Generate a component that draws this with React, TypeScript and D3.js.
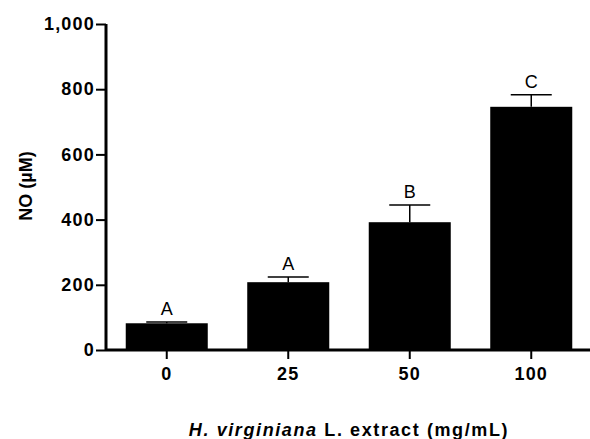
import * as d3 from "d3";
import React, { useEffect, useRef } from "react";

const categories = ["0", "25", "50", "100"];
const means = [82, 208, 392, 746];
const errors = [4, 16, 53, 37];
const letters = ["A", "A", "B", "C"];
const yTicks = [0, 200, 400, 600, 800, 1000];

const App = () => {
  const ref = useRef<SVGSVGElement | null>(null);

  useEffect(() => {
    drawChart();
  }, []);

  const drawChart = () => {
    const svg = d3.select(ref.current);
    svg.selectAll("*").remove();

    const width = 590;
    const height = 439;
    const left = 106;
    const right = 592;
    const top = 24;
    const bottom = 350;
    const font = "Arial, 'Liberation Sans', sans-serif";

    const x = d3
      .scaleBand()
      .domain(categories)
      .range([left, right])
      .paddingInner(0.325)
      .paddingOuter(0.1625);

    const y = d3.scaleLinear().domain([0, 1000]).range([bottom, top]);

    svg.attr("width", width).attr("height", height);

    // bars
    svg
      .selectAll("rect.bar")
      .data(means)
      .enter()
      .append("rect")
      .attr("class", "bar")
      .attr("x", (_, i) => x(categories[i]))
      .attr("y", (d) => y(d))
      .attr("width", x.bandwidth())
      .attr("height", (d) => y(0) - y(d))
      .attr("fill", "#000");

    // error bars + letters
    const cap = x.bandwidth() / 2;
    const g = svg.append("g").attr("stroke", "#000").attr("stroke-width", 1.5);
    means.forEach((m, i) => {
      const cx = x(categories[i]) + x.bandwidth() / 2;
      g.append("line")
        .attr("x1", cx)
        .attr("x2", cx)
        .attr("y1", y(m))
        .attr("y2", y(m + errors[i]));
      g.append("line")
        .attr("x1", cx - cap / 2)
        .attr("x2", cx + cap / 2)
        .attr("y1", y(m + errors[i]))
        .attr("y2", y(m + errors[i]));
      svg
        .append("text")
        .attr("x", cx)
        .attr("y", y(m + errors[i]) - 7)
        .attr("text-anchor", "middle")
        .style("font-family", font)
        .style("font-size", "18px")
        .text(letters[i]);
    });

    // y axis
    const yAxis = svg
      .append("g")
      .attr("transform", `translate(${left},0)`)
      .call(
        d3
          .axisLeft(y)
          .tickValues(yTicks)
          .tickSize(10)
          .tickPadding(1)
          .tickFormat(d3.format(","))
      );
    yAxis.select(".domain").attr("stroke-width", 3).attr("d", `M0,${bottom}V${top}`);
    yAxis.selectAll(".tick line").attr("stroke-width", 2);
    yAxis
      .selectAll("text")
      .style("font-family", font)
      .style("font-size", "18px")
      .style("font-weight", "bold")
      .style("letter-spacing", "1.2px");

    // x axis
    const xAxis = svg
      .append("g")
      .attr("transform", `translate(0,${bottom})`)
      .call(d3.axisBottom(x).tickSize(9).tickPadding(8));
    xAxis.select(".domain").attr("stroke-width", 3).attr("d", `M${left},0H${right}`);
    xAxis.selectAll(".tick line").attr("stroke-width", 2);
    xAxis
      .selectAll("text")
      .style("font-family", font)
      .style("font-size", "18px")
      .style("font-weight", "bold")
      .style("letter-spacing", "1.2px");

    // y title
    svg
      .append("text")
      .attr("transform", `translate(32,186) rotate(-90)`)
      .attr("text-anchor", "middle")
      .style("font-family", font)
      .style("font-size", "18px")
      .style("font-weight", "bold")
      .text("NO (µM)");

    // x title
    const xt = svg
      .append("text")
      .attr("x", 349)
      .attr("y", 436)
      .attr("text-anchor", "middle")
      .style("font-family", font)
      .style("font-size", "18px")
      .style("font-weight", "bold")
      .style("letter-spacing", "1.6px");
    xt.append("tspan").style("font-style", "italic").text("H. virginiana");
    xt.append("tspan").text(" L. extract (mg/mL)");
  };

  return <svg ref={ref} style={{ position: "absolute", left: 0, top: 0 }} />;
};

export default App;
